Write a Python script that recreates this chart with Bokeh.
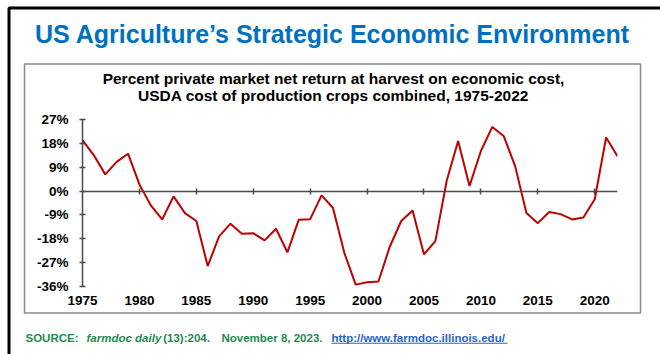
from bokeh.plotting import figure
from bokeh.models import (Range1d, LinearAxis, FixedTicker, PrintfTickFormatter,
                          CustomJSTickFormatter)
from bokeh.core.properties import value
from bokeh.embed import file_html
from bokeh.resources import INLINE

# ---------------- data ----------------
years = list(range(1975, 2023))
net_return_pct = [19.2, 13.5, 6.3, 11.0, 14.1, 2.5, -5.4, -10.7, -2.0, -8.3,
                  -11.3, -28.3, -17.1, -12.3, -16.1, -15.9, -18.6, -14.2, -23.1, -10.8,
                  -10.6, -1.6, -6.3, -23.3, -35.3, -34.4, -34.1, -20.9, -11.3, -7.3,
                  -23.9, -18.9, 4.0, 18.9, 1.9, 15.1, 24.2, 20.8, 9.5, -8.3,
                  -12.1, -7.9, -8.7, -10.7, -10.0, -3.1, 20.2, 13.1]
y_ticks = [-36, -27, -18, -9, 0, 9, 18, 27]
x_label_ticks = [1975, 1980, 1985, 1990, 1995, 2000, 2005, 2010, 2015, 2020]
x_zero_ticks = [1980, 1985, 1990, 1995, 2000, 2005, 2010, 2015, 2020]

title_text = "US Agriculture\u2019s Strategic Economic Environment"
subtitle_1 = "Percent private market net return at harvest on economic cost,"
subtitle_2 = "USDA cost of production crops combined, 1975-2022"
source_parts = ["SOURCE:", "farmdoc daily", "(13):204.", "November 8, 2023.",
                "http://www.farmdoc.illinois.edu/"]

# ---------------- layout ----------------
W, H = 660, 354
FL, FR, FT, FB = 82, 617, 119, 286
X0, X1, Y0, Y1 = 1975, 2022, -36, 27

def X(px):
    return X0 + (px - FL) * (X1 - X0) / (FR - FL)

def Y(py):
    return Y0 + (FB - py) * (Y1 - Y0) / (FB - FT)

FONT = "Liberation Sans"
AXC = "#4a4a4a"

p = figure(width=W, height=H, x_range=Range1d(X0, X1), y_range=Range1d(Y0, Y1),
           output_backend="svg", toolbar_location=None,
           x_axis_location=None, y_axis_location=None,
           min_border_left=FL, min_border_right=W - FR,
           min_border_top=FT, min_border_bottom=H - FB)
p.outline_line_color = None
p.background_fill_color = "white"
p.border_fill_color = "white"
p.grid.visible = False

# y axis
yax = LinearAxis(ticker=FixedTicker(ticks=y_ticks),
                 formatter=PrintfTickFormatter(format="%d%%"),
                 major_tick_in=3, major_tick_out=3,
                 minor_tick_line_color=None,
                 axis_line_color=AXC, axis_line_width=1.5,
                 major_tick_line_color=AXC, major_tick_line_width=1.5,
                 major_label_text_font=FONT, major_label_text_font_style="bold",
                 major_label_text_font_size="13.5px", major_label_text_color="black",
                 major_label_standoff=11)
p.add_layout(yax, "left")

# x axis labels (bottom)
xlab = LinearAxis(ticker=FixedTicker(ticks=x_label_ticks),
                  axis_line_color=None, major_tick_line_color=None,
                  minor_tick_line_color=None, major_tick_in=0, major_tick_out=0,
                  major_label_text_font=FONT, major_label_text_font_style="bold",
                  major_label_text_font_size="13.5px", major_label_text_color="black",
                  major_label_standoff=9)
p.add_layout(xlab, "below")

# zero line axis with ticks
xzero = LinearAxis(ticker=FixedTicker(ticks=x_zero_ticks), fixed_location=0,
                   formatter=CustomJSTickFormatter(code="return ''"),
                   major_tick_in=3, major_tick_out=3, minor_tick_line_color=None,
                   axis_line_color=AXC, axis_line_width=1.5,
                   major_tick_line_color=AXC, major_tick_line_width=1.5,
                   major_label_text_font_size="1px")
p.add_layout(xzero, "above")

# series
p.line(years, net_return_pct, line_color="#c00000", line_width=2)

# decorative frames (drawn at overlay level so they are not clipped to the plot area)
p.quad(left=[X(8.5)], right=[X(720)], top=[Y(7.5)], bottom=[Y(420)],
       fill_color=None, line_color="black", line_width=3, level="overlay")
p.quad(left=[X(24)], right=[X(640)], top=[Y(63.5)], bottom=[Y(312.5)],
       fill_color=None, line_color="#8a8a8a", line_width=1.5, level="overlay")

# titles
p.text(x=[X(332)], y=[Y(33.2)], text=[title_text], text_font=value(FONT),
       text_font_style="bold", text_font_size="25px", text_color="#0070c0",
       text_align="center", text_baseline="alphabetic", level="overlay")
p.text(x=[X(333), X(333)], y=[Y(78.3), Y(94.8)], text=[subtitle_1, subtitle_2],
       text_font=value(FONT), text_font_style="bold", text_font_size="15.5px",
       text_color="black", text_align="center", text_baseline="alphabetic",
       level="overlay")

# source line
GREEN = "#1f8a4c"
URLC = "#2a64c5"
src_x = [25, 86, 162.7, 221, 331]
src_style = ["bold", "bold italic", "bold", "bold", "bold"]
src_color = [GREEN, GREEN, GREEN, GREEN, URLC]
for t, sx, st, c in zip(source_parts, src_x, src_style, src_color):
    p.text(x=[X(sx)], y=[Y(337.8)], text=[t], text_font=value(FONT),
           text_font_style=st, text_font_size="11.5px", text_color=c,
           text_align="left", text_baseline="alphabetic", level="overlay")
p.quad(left=[X(331)], right=[X(507)], top=[Y(342.3)], bottom=[Y(343.3)],
       fill_color=URLC, line_color=None, level="overlay")

open("out.html", "w").write(file_html(p, INLINE))
